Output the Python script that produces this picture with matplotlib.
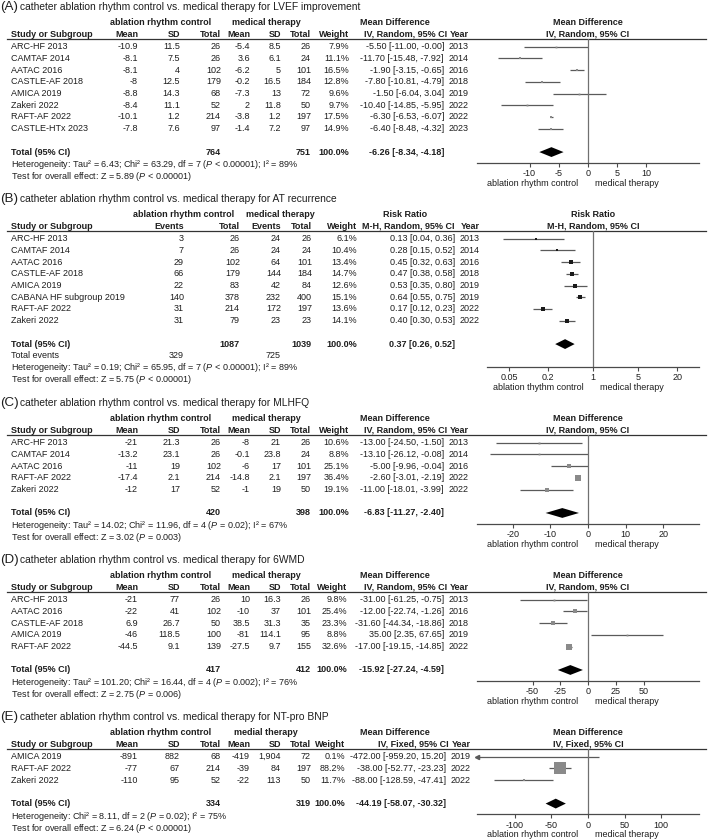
import matplotlib
matplotlib.use("Agg")
import matplotlib.pyplot as plt
from matplotlib.ticker import NullLocator
from matplotlib.transforms import blended_transform_factory

plt.rcParams["font.family"] = ["Liberation Sans", "DejaVu Sans"]
plt.rcParams["mathtext.fontset"] = "custom"
plt.rcParams["mathtext.rm"] = "Liberation Sans"
plt.rcParams["mathtext.it"] = "Liberation Sans:italic"

# ---- (A) LVEF improvement ----
a_studies = ["ARC-HF 2013", "CAMTAF 2014", "AATAC 2016", "CASTLE-AF 2018",
             "AMICA 2019", "Zakeri 2022", "RAFT-AF 2022", "CASTLE-HTx 2023"]
a_abl_mean = [-10.9, -8.1, -8.1, -8, -8.8, -8.4, -10.1, -7.8]
a_abl_sd = [11.5, 7.5, 4, 12.5, 14.3, 11.1, 1.2, 7.6]
a_abl_n = [26, 26, 102, 179, 68, 52, 214, 97]
a_med_mean = [-5.4, 3.6, -6.2, -0.2, -7.3, 2, -3.8, -1.4]
a_med_sd = [8.5, 6.1, 5, 16.5, 13, 11.8, 1.2, 7.2]
a_med_n = [26, 24, 101, 184, 72, 50, 197, 97]
a_weight = [7.9, 11.1, 16.5, 12.8, 9.6, 9.7, 17.5, 14.9]
a_md = [-5.50, -11.70, -1.90, -7.80, -1.50, -10.40, -6.30, -6.40]
a_lo = [-11.00, -15.48, -3.15, -10.81, -6.04, -14.85, -6.53, -8.48]
a_hi = [-0.00, -7.92, -0.65, -4.79, 3.04, -5.95, -6.07, -4.32]
a_year = [2013, 2014, 2016, 2018, 2019, 2022, 2022, 2023]
a_total = [764, 751, -6.26, -8.34, -4.18]
a_het = "Heterogeneity: Tau² = 6.43; Chi² = 63.29, df = 7 ($P$ < 0.00001); I² = 89%"
a_test = "Test for overall effect: Z = 5.89 ($P$ < 0.00001)"
a_ticks = [-10, -5, 0, 5, 10]
a_ticklabels = ["-10", "-5", "0", "5", "10"]

# ---- (B) AT recurrence ----
b_studies = ["ARC-HF 2013", "CAMTAF 2014", "AATAC 2016", "CASTLE-AF 2018",
             "AMICA 2019", "CABANA HF subgroup 2019", "RAFT-AF 2022", "Zakeri 2022"]
b_abl_ev = [3, 7, 29, 66, 22, 140, 31, 31]
b_abl_n = [26, 26, 102, 179, 83, 378, 214, 79]
b_med_ev = [24, 24, 64, 144, 42, 232, 172, 23]
b_med_n = [26, 24, 101, 184, 84, 400, 197, 23]
b_weight = [6.1, 10.4, 13.4, 14.7, 12.6, 15.1, 13.6, 14.1]
b_rr = [0.13, 0.28, 0.45, 0.47, 0.53, 0.64, 0.17, 0.40]
b_lo = [0.04, 0.15, 0.32, 0.38, 0.35, 0.55, 0.12, 0.30]
b_hi = [0.36, 0.52, 0.63, 0.58, 0.80, 0.75, 0.23, 0.53]
b_year = [2013, 2014, 2016, 2018, 2019, 2019, 2022, 2022]
b_total = [1087, 1039, 0.37, 0.26, 0.52]
b_events = [329, 725]
b_het = "Heterogeneity: Tau² = 0.19; Chi² = 65.95, df = 7 ($P$ < 0.00001); I² = 89%"
b_test = "Test for overall effect: Z = 5.75 ($P$ < 0.00001)"
b_ticks = [0.05, 0.2, 1, 5, 20]
b_ticklabels = ["0.05", "0.2", "1", "5", "20"]

# ---- (C) MLHFQ ----
c_studies = ["ARC-HF 2013", "CAMTAF 2014", "AATAC 2016", "RAFT-AF 2022", "Zakeri 2022"]
c_abl_mean = [-21, -13.2, -11, -17.4, -12]
c_abl_sd = [21.3, 23.1, 19, 2.1, 17]
c_abl_n = [26, 26, 102, 214, 52]
c_med_mean = [-8, -0.1, -6, -14.8, -1]
c_med_sd = [21, 23.8, 17, 2.1, 19]
c_med_n = [26, 24, 101, 197, 50]
c_weight = [10.6, 8.8, 25.1, 36.4, 19.1]
c_md = [-13.00, -13.10, -5.00, -2.60, -11.00]
c_lo = [-24.50, -26.12, -9.96, -3.01, -18.01]
c_hi = [-1.50, -0.08, -0.04, -2.19, -3.99]
c_year = [2013, 2014, 2016, 2022, 2022]
c_total = [420, 398, -6.83, -11.27, -2.40]
c_het = "Heterogeneity: Tau² = 14.02; Chi² = 11.96, df = 4 ($P$ = 0.02); I² = 67%"
c_test = "Test for overall effect: Z = 3.02 ($P$ = 0.003)"
c_ticks = [-20, -10, 0, 10, 20]
c_ticklabels = ["-20", "-10", "0", "10", "20"]

# ---- (D) 6WMD ----
d_studies = ["ARC-HF 2013", "AATAC 2016", "CASTLE-AF 2018", "AMICA 2019", "RAFT-AF 2022"]
d_abl_mean = [-21, -22, 6.9, -46, -44.5]
d_abl_sd = [77, 41, 26.7, 118.5, 9.1]
d_abl_n = [26, 102, 50, 100, 139]
d_med_mean = [10, -10, 38.5, -81, -27.5]
d_med_sd = [16.3, 37, 31.3, 114.1, 9.7]
d_med_n = [26, 101, 35, 95, 155]
d_weight = [9.8, 25.4, 23.3, 8.8, 32.6]
d_md = [-31.00, -12.00, -31.60, 35.00, -17.00]
d_lo = [-61.25, -22.74, -44.34, 2.35, -19.15]
d_hi = [-0.75, -1.26, -18.86, 67.65, -14.85]
d_year = [2013, 2016, 2018, 2019, 2022]
d_total = [417, 412, -15.92, -27.24, -4.59]
d_het = "Heterogeneity: Tau² = 101.20; Chi² = 16.44, df = 4 ($P$ = 0.002); I² = 76%"
d_test = "Test for overall effect: Z = 2.75 ($P$ = 0.006)"
d_ticks = [-50, -25, 0, 25, 50]
d_ticklabels = ["-50", "-25", "0", "25", "50"]

# ---- (E) NT-pro BNP ----
e_studies = ["AMICA 2019", "RAFT-AF 2022", "Zakeri 2022"]
e_abl_mean = [-891, -77, -110]
e_abl_sd = [882, 67, 95]
e_abl_n = [68, 214, 52]
e_med_mean = [-419, -39, -22]
e_med_sd = [1904, 84, 113]
e_med_n = [72, 197, 50]
e_weight = [0.1, 88.2, 11.7]
e_md = [-472.00, -38.00, -88.00]
e_lo = [-959.20, -52.77, -128.59]
e_hi = [15.20, -23.23, -47.41]
e_year = [2019, 2022, 2022]
e_total = [334, 319, -44.19, -58.07, -30.32]
e_het = "Heterogeneity: Chi² = 8.11, df = 2 ($P$ = 0.02); I² = 75%"
e_test = "Test for overall effect: Z = 6.24 ($P$ < 0.00001)"
e_ticks = [-100, -50, 0, 50, 100]
e_ticklabels = ["-100", "-50", "0", "50", "100"]

TITLE_BASE = "catheter ablation rhythm control vs. medical therapy for "

W, H = 709, 840
ROW = 11.7
FS = 6.45
INK = "#1e1e1e"
LINE = "#5a5a5a"
AXIS = "#4a4a4a"
BOX = "#8a8a8a"


def fmt(v):
    """Means and SDs, with a thousands separator."""
    return format(v, ",g")


def ci_text(e, lo, hi):
    return "{:.2f} [{:.2f}, {:.2f}]".format(e, lo, hi)


def make_panel(fig, top, last_row, x0, x1, xlim, log=False):
    """Adds the forest axes of a panel, rows are the y data units."""
    r0 = top + 3.4 * ROW
    y_top = -0.66
    y_bot = last_row + 0.93
    px_top = r0 + y_top * ROW
    px_bot = r0 + y_bot * ROW
    ax = fig.add_axes([x0 / W, 1 - px_bot / H, (x1 - x0) / W,
                       (px_bot - px_top) / H])
    if log:
        ax.set_xscale("log")
    ax.set_xlim(*xlim)
    ax.set_ylim(y_bot, y_top)
    ax.patch.set_visible(False)
    tr = blended_transform_factory(fig.transFigure, ax.transData)
    ax.plot([7 / W, 706 / W], [y_top, y_top], transform=tr, clip_on=False,
            color="#333333", lw=0.9)
    return ax, tr


def put(ax, tr, x, row, s, ha="right", bold=False, size=FS):
    ax.text(x / W, row, s, transform=tr, ha=ha, va="center", fontsize=size,
            fontweight="bold" if bold else "normal", color=INK, clip_on=False)


def title(ax, tr, letter, text):
    put(ax, tr, 0, -3.4, "(" + letter + ")", ha="left", size=9.6)
    put(ax, tr, 20, -3.4, TITLE_BASE + text, ha="left", size=7.4)


def style_axis(ax, ticks, labels, zero, left_lab, head1, head2):
    for s in ("top", "left", "right"):
        ax.spines[s].set_visible(False)
    ax.spines["bottom"].set_color(AXIS)
    ax.spines["bottom"].set_linewidth(0.9)
    ax.set_yticks([])
    ax.set_xticks(ticks)
    ax.set_xticklabels(labels)
    ax.xaxis.set_minor_locator(NullLocator())
    ax.tick_params(axis="x", direction="out", length=3, width=0.8, pad=1.5,
                   labelsize=FS, color=AXIS, labelcolor=INK)
    ax.axvline(zero, color="#707070", lw=0.9)
    ax.annotate(left_lab, xy=(zero, 0), xycoords=("data", "axes fraction"),
                xytext=(-7, -11.5), textcoords="offset points", ha="right",
                va="top", fontsize=FS, color=INK)
    ax.annotate("medical therapy", xy=(zero, 0),
                xycoords=("data", "axes fraction"), xytext=(5, -11.5),
                textcoords="offset points", ha="left", va="top",
                fontsize=FS, color=INK)
    ax.text(zero, -2.08, head1, ha="center", va="center", fontsize=FS,
            fontweight="bold", color=INK, clip_on=False)
    ax.text(zero, -1.08, head2, ha="center", va="center", fontsize=FS,
            fontweight="bold", color=INK, clip_on=False)


def draw_forest(ax, est, lo, hi, weight, color, offs):
    xmin, xmax = ax.get_xlim()
    for i in range(len(est)):
        a = max(lo[i], xmin)
        b = min(hi[i], xmax)
        ax.plot([a, b], [i, i], color=LINE, lw=0.9, solid_capstyle="butt")
        if lo[i] < xmin:
            ax.plot(xmin, i, marker="<", ms=3, color=LINE, clip_on=False)
        if xmin <= est[i] <= xmax:
            side = max(1.8, offs + 0.14 * weight[i])
            ax.plot(est[i], i, marker="s", ms=side * 0.72, color=color,
                    mec=color, mew=0)


def diamond(ax, row, est, lo, hi):
    ax.fill([lo, est, hi, est], [row, row - 0.42, row, row + 0.42],
            color="black", lw=0)


def continuous_panel(fig, top, letter, name, studies, m1, s1, n1, m2, s2, n2,
                     weight, md, lo, hi, year, total, het, test, ticks,
                     ticklabels, half, method, group2="medical therapy",
                     wx=349, cx=444):
    n = len(studies)
    tot_row = n + 1
    ax, tr = make_panel(fig, top, tot_row, 477, 699, (-half, half))
    title(ax, tr, letter, name)
    put(ax, tr, 161, -2.08, "ablation rhythm control", ha="center", bold=True)
    put(ax, tr, 266, -2.08, group2, ha="center", bold=True)
    put(ax, tr, 395, -2.08, "Mean Difference", ha="center", bold=True)
    heads = [(11, "Study or Subgroup", "left"), (138, "Mean", "right"),
             (180, "SD", "right"), (221, "Total", "right"),
             (250, "Mean", "right"), (281, "SD", "right"),
             (311, "Total", "right"), (wx, "Weight", "right"),
             (cx + 3, method, "right"), (cx + 25, "Year", "right")]
    for x, s, ha in heads:
        put(ax, tr, x, -1.08, s, ha=ha, bold=True)
    for i in range(n):
        put(ax, tr, 11, i, studies[i], ha="left")
        put(ax, tr, 138, i, fmt(m1[i]))
        put(ax, tr, 180, i, fmt(s1[i]))
        put(ax, tr, 221, i, str(n1[i]))
        put(ax, tr, 250, i, fmt(m2[i]))
        put(ax, tr, 281, i, fmt(s2[i]))
        put(ax, tr, 311, i, str(n2[i]))
        put(ax, tr, wx, i, "{:.1f}%".format(weight[i]))
        put(ax, tr, cx, i, ci_text(md[i], lo[i], hi[i]))
        put(ax, tr, cx + 25, i, str(year[i]))
    put(ax, tr, 11, tot_row, "Total (95% CI)", ha="left", bold=True)
    put(ax, tr, 221, tot_row, str(total[0]), bold=True)
    put(ax, tr, 311, tot_row, str(total[1]), bold=True)
    put(ax, tr, wx, tot_row, "100.0%", bold=True)
    put(ax, tr, cx, tot_row, ci_text(*total[2:]), bold=True)
    put(ax, tr, 11, tot_row + 1.1, het, ha="left")
    put(ax, tr, 11, tot_row + 2.1, test, ha="left")
    draw_forest(ax, md, lo, hi, weight, BOX, 0.5)
    diamond(ax, tot_row, *total[2:])
    style_axis(ax, ticks, ticklabels, 0, "ablation rhythm control",
               "Mean Difference", method)


def main():
    fig = plt.figure(figsize=(W / 100, H / 100), dpi=100)

    continuous_panel(fig, 7, "A", "LVEF improvement", a_studies, a_abl_mean,
                     a_abl_sd, a_abl_n, a_med_mean, a_med_sd, a_med_n,
                     a_weight, a_md, a_lo, a_hi, a_year, a_total, a_het,
                     a_test, a_ticks, a_ticklabels, 19, "IV, Random, 95% CI")

    # (B) dichotomous outcome on a log scale
    n = len(b_studies)
    tot_row = n + 1
    ax, tr = make_panel(fig, 199, tot_row + 1, 487, 699,
                        (10 ** -1.64, 10 ** 1.64), log=True)
    title(ax, tr, "B", "AT recurrence")
    put(ax, tr, 184, -2.08, "ablation rhythm control", ha="center", bold=True)
    put(ax, tr, 280, -2.08, "medical therapy", ha="center", bold=True)
    put(ax, tr, 405, -2.08, "Risk Ratio", ha="center", bold=True)
    heads = [(11, "Study or Subgroup", "left"), (184, "Events", "right"),
             (240, "Total", "right"), (281, "Events", "right"),
             (312, "Total", "right"), (357, "Weight", "right"),
             (455, "M-H, Random, 95% CI", "right"), (480, "Year", "right")]
    for x, s, ha in heads:
        put(ax, tr, x, -1.08, s, ha=ha, bold=True)
    for i in range(n):
        put(ax, tr, 11, i, b_studies[i], ha="left")
        put(ax, tr, 184, i, str(b_abl_ev[i]))
        put(ax, tr, 240, i, str(b_abl_n[i]))
        put(ax, tr, 281, i, str(b_med_ev[i]))
        put(ax, tr, 312, i, str(b_med_n[i]))
        put(ax, tr, 357, i, "{:.1f}%".format(b_weight[i]))
        put(ax, tr, 455, i, ci_text(b_rr[i], b_lo[i], b_hi[i]))
        put(ax, tr, 480, i, str(b_year[i]))
    put(ax, tr, 11, tot_row, "Total (95% CI)", ha="left", bold=True)
    put(ax, tr, 240, tot_row, str(b_total[0]), bold=True)
    put(ax, tr, 312, tot_row, str(b_total[1]), bold=True)
    put(ax, tr, 357, tot_row, "100.0%", bold=True)
    put(ax, tr, 455, tot_row, ci_text(*b_total[2:]), bold=True)
    put(ax, tr, 11, tot_row + 1, "Total events", ha="left")
    put(ax, tr, 184, tot_row + 1, str(b_events[0]))
    put(ax, tr, 281, tot_row + 1, str(b_events[1]))
    put(ax, tr, 11, tot_row + 2, b_het, ha="left")
    put(ax, tr, 11, tot_row + 3, b_test, ha="left")
    draw_forest(ax, b_rr, b_lo, b_hi, b_weight, "#1a1a1a", 1.5)
    diamond(ax, tot_row, *b_total[2:])
    style_axis(ax, b_ticks, b_ticklabels, 1, "ablation thythm control",
               "Risk Ratio", "M-H, Random, 95% CI")

    continuous_panel(fig, 403, "C", "MLHFQ", c_studies, c_abl_mean,
                     c_abl_sd, c_abl_n, c_med_mean, c_med_sd, c_med_n,
                     c_weight, c_md, c_lo, c_hi, c_year, c_total, c_het,
                     c_test, c_ticks, c_ticklabels, 29.5, "IV, Random, 95% CI")

    continuous_panel(fig, 560, "D", "6WMD", d_studies, d_abl_mean,
                     d_abl_sd, d_abl_n, d_med_mean, d_med_sd, d_med_n,
                     d_weight, d_md, d_lo, d_hi, d_year, d_total, d_het,
                     d_test, d_ticks, d_ticklabels, 100, "IV, Random, 95% CI",
                     wx=347)

    continuous_panel(fig, 717, "E", "NT-pro BNP", e_studies, e_abl_mean,
                     e_abl_sd, e_abl_n, e_med_mean, e_med_sd, e_med_n,
                     e_weight, e_md, e_lo, e_hi, e_year, e_total, e_het,
                     e_test, e_ticks, e_ticklabels, 152, "IV, Fixed, 95% CI",
                     group2="medial therapy", wx=345, cx=446)

    fig.savefig("out.png", dpi=100)


if __name__ == "__main__":
    main()
